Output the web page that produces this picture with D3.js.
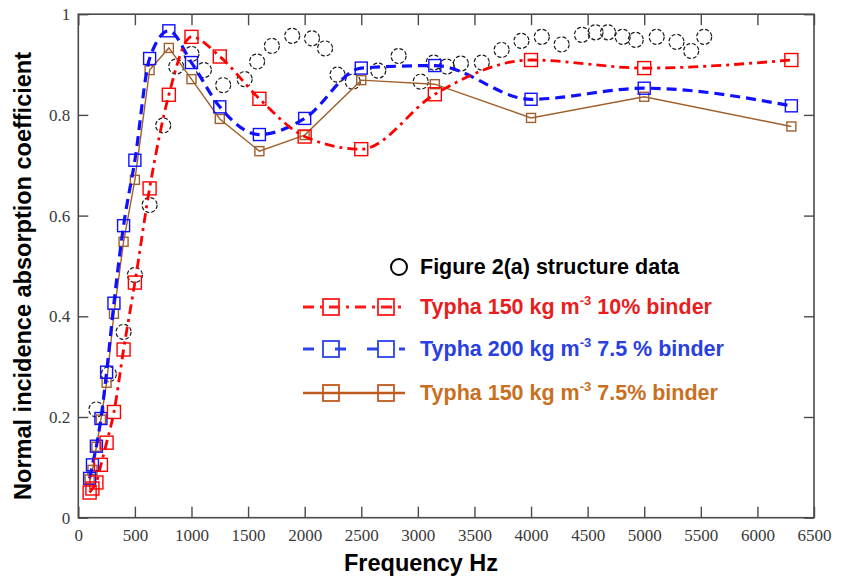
<!DOCTYPE html>
<html>
<head>
<meta charset="utf-8">
<script src="https://cdn.jsdelivr.net/npm/d3@7"></script>
<style>
  body { margin: 0; background: #fff; }
  svg { display: block; }
</style>
</head>
<body>
<div id="chart"></div>
<script>
// Absorption coefficient chart

// 1/3 octave band centre frequencies (Hz)
const freqs = [100, 125, 160, 200, 250, 315, 400, 500, 630, 800, 1000, 1250, 1600, 2000, 2500, 3150, 4000, 5000, 6300];

// Typha 150 kg m-3 10% binder
const typha150b10 = [0.050, 0.058, 0.070, 0.105, 0.149, 0.210, 0.334, 0.467, 0.654, 0.840, 0.955, 0.916, 0.832, 0.757, 0.732, 0.841, 0.909, 0.893, 0.909];
// Typha 200 kg m-3 7.5 % binder
const typha200b75 = [0.078, 0.105, 0.142, 0.197, 0.289, 0.426, 0.580, 0.710, 0.912, 0.967, 0.904, 0.816, 0.761, 0.793, 0.893, 0.898, 0.831, 0.853, 0.818];
// Typha 150 kg m-3 7.5% binder
const typha150b75 = [0.076, 0.095, 0.141, 0.195, 0.268, 0.405, 0.548, 0.671, 0.889, 0.933, 0.871, 0.792, 0.728, 0.760, 0.869, 0.861, 0.794, 0.836, 0.777];

// Figure 2(a) structure data (circles)
const fig2aFreq = [160, 270, 400, 500, 630, 750, 865, 1000, 1110, 1280, 1470, 1580, 1710, 1890, 2065, 2180, 2290, 2425, 2650, 2830, 3025, 3140, 3255, 3380, 3565, 3740, 3915, 4095, 4270, 4450, 4570, 4680, 4810, 4925, 5110, 5285, 5415, 5530];
const fig2aAlpha = [0.215, 0.285, 0.369, 0.482, 0.621, 0.779, 0.896, 0.921, 0.889, 0.859, 0.871, 0.906, 0.937, 0.957, 0.952, 0.932, 0.880, 0.866, 0.888, 0.917, 0.866, 0.904, 0.896, 0.902, 0.904, 0.929, 0.947, 0.955, 0.940, 0.959, 0.964, 0.964, 0.955, 0.949, 0.955, 0.945, 0.927, 0.955];

const xTickValues = [0, 500, 1000, 1500, 2000, 2500, 3000, 3500, 4000, 4500, 5000, 5500, 6000, 6500];
const yTickValues = [0, 0.2, 0.4, 0.6, 0.8, 1];

const width = 842;
const height = 584;
const plot = { left: 78.3, right: 814, top: 14.2, bottom: 517.7 };

const svg = d3.select('#chart')
  .append('svg')
  .attr('width', width)
  .attr('height', height);

const x = d3.scaleLinear().domain([0, 6500]).range([plot.left, plot.right]);
const y = d3.scaleLinear().domain([0, 1]).range([plot.bottom, plot.top]);

const axisColor = '#4a4a4a';
const tickFont = '"Liberation Serif", "Times New Roman", serif';

// frame
svg.append('rect')
  .attr('x', plot.left)
  .attr('y', plot.top)
  .attr('width', plot.right - plot.left)
  .attr('height', plot.bottom - plot.top)
  .attr('fill', 'none')
  .attr('stroke', axisColor)
  .attr('stroke-width', 1.6);

function styleAxis(g) {
  g.select('.domain').remove();
  g.selectAll('.tick line').attr('stroke', axisColor).attr('stroke-width', 1.4);
  g.selectAll('.tick text')
    .attr('fill', '#3a3a3a')
    .style('font-family', tickFont)
    .style('font-size', '17px');
}

svg.append('g')
  .attr('transform', `translate(0,${plot.bottom})`)
  .call(d3.axisBottom(x).tickValues(xTickValues).tickSize(-11).tickPadding(11).tickFormat(d3.format('d')))
  .call(styleAxis);

svg.append('g')
  .attr('transform', `translate(0,${plot.top})`)
  .call(d3.axisTop(x).tickValues(xTickValues).tickSize(-11).tickFormat(''))
  .call(styleAxis);

svg.append('g')
  .attr('transform', `translate(${plot.left},0)`)
  .call(d3.axisLeft(y).tickValues(yTickValues).tickSize(-10).tickPadding(8).tickFormat(d => d === 0 || d === 1 ? d3.format('d')(d) : d3.format('.1f')(d)))
  .call(styleAxis);

svg.append('g')
  .attr('transform', `translate(${plot.right},0)`)
  .call(d3.axisRight(y).tickValues(yTickValues).tickSize(-10).tickFormat(''))
  .call(styleAxis);

// axis titles
const titleFont = '"Liberation Sans", Arial, sans-serif';
svg.append('text')
  .attr('transform', `translate(31,${(plot.top + plot.bottom) / 2 + 10}) rotate(-90)`)
  .attr('text-anchor', 'middle')
  .style('font-family', titleFont)
  .style('font-weight', 'bold')
  .style('font-size', '23.5px')
  .attr('fill', '#000')
  .text('Normal incidence absorption coefficient');

svg.append('text')
  .attr('x', 421)
  .attr('y', 571)
  .attr('text-anchor', 'middle')
  .style('font-family', titleFont)
  .style('font-weight', 'bold')
  .style('font-size', '23.5px')
  .attr('fill', '#000')
  .text('Frequency Hz');

// series definitions
const series = [
  { values: typha150b10, color: '#ff0000', width: 2.8, dash: '10,5,3,5', curve: d3.curveMonotoneX, box: 13 },
  { values: typha200b75, color: '#1010ff', width: 3.2, dash: '10,6', curve: d3.curveMonotoneX, box: 12 },
  { values: typha150b75, color: '#a0602c', width: 1.4, dash: null, curve: d3.curveLinear, box: 9 }
];

const plotGroup = svg.append('g');

// circles drawn first (behind lines)
const circleData = fig2aFreq.map((f, i) => ({ f, a: fig2aAlpha[i] }));
plotGroup.selectAll('circle.fig2a')
  .data(circleData)
  .enter()
  .append('circle')
  .attr('class', 'fig2a')
  .attr('cx', d => x(d.f))
  .attr('cy', d => y(d.a))
  .attr('r', 7.5)
  .attr('fill', 'none')
  .attr('stroke', '#1a1a1a')
  .attr('stroke-width', 1.2)
  .attr('stroke-dasharray', '4,2');

series.slice().reverse().forEach(s => {
  const pts = freqs.map((f, i) => ({ f, a: s.values[i] }));
  const line = d3.line().x(d => x(d.f)).y(d => y(d.a)).curve(s.curve);

  plotGroup.append('path')
    .datum(pts)
    .attr('d', line)
    .attr('fill', 'none')
    .attr('stroke', s.color)
    .attr('stroke-width', s.width)
    .attr('stroke-dasharray', s.dash);

  plotGroup.selectAll(null)
    .data(pts)
    .enter()
    .append('rect')
    .attr('x', d => x(d.f) - s.box / 2)
    .attr('y', d => y(d.a) - s.box / 2)
    .attr('width', s.box)
    .attr('height', s.box)
    .attr('fill', 'none')
    .attr('stroke', s.color)
    .attr('stroke-width', 1.4);
});

// legend
const legendFont = '"Liberation Sans", Arial, sans-serif';
const legendItems = [
  { type: 'circle', y: 267, color: '#000', text: ['Figure 2(a) structure data'] },
  { type: 'line', y: 307, line: '#ff1a1a', color: '#e81e1e', dash: '11,6,3,6', width: 3, text: ['Typha 150 kg m', '-3', ' 10% binder'] },
  { type: 'line', y: 349, line: '#2a44e6', color: '#2a3fe0', dash: '11,21', width: 3.2, text: ['Typha 200 kg m', '-3', ' 7.5 % binder'] },
  { type: 'line', y: 393, line: '#c05a1e', color: '#c8701f', dash: null, width: 2.6, text: ['Typha 150 kg m', '-3', ' 7.5% binder'] }
];

const legend = svg.append('g');
legendItems.forEach(item => {
  if (item.type === 'circle') {
    legend.append('circle')
      .attr('cx', 399)
      .attr('cy', item.y)
      .attr('r', 8)
      .attr('fill', 'none')
      .attr('stroke', '#000')
      .attr('stroke-width', 2);
  } else {
    legend.append('line')
      .attr('x1', 303)
      .attr('x2', 405)
      .attr('y1', item.y)
      .attr('y2', item.y)
      .attr('stroke', item.line)
      .attr('stroke-width', item.width)
      .attr('stroke-dasharray', item.dash);
    [331, 386].forEach(cx => {
      legend.append('rect')
        .attr('x', cx - 8)
        .attr('y', item.y - 8)
        .attr('width', 16)
        .attr('height', 16)
        .attr('fill', 'none')
        .attr('stroke', item.line)
        .attr('stroke-width', 1.8);
    });
  }

  const t = legend.append('text')
    .attr('x', 420)
    .attr('y', item.y + 7)
    .style('font-family', legendFont)
    .style('font-weight', 'bold')
    .style('font-size', '21.5px')
    .attr('fill', item.color);
  t.append('tspan').text(item.text[0]);
  if (item.text.length > 1) {
    t.append('tspan')
      .attr('dy', -9)
      .style('font-size', '13px')
      .text(item.text[1]);
    t.append('tspan')
      .attr('dy', 9)
      .text(item.text[2]);
  }
});
</script>
</body>
</html>
